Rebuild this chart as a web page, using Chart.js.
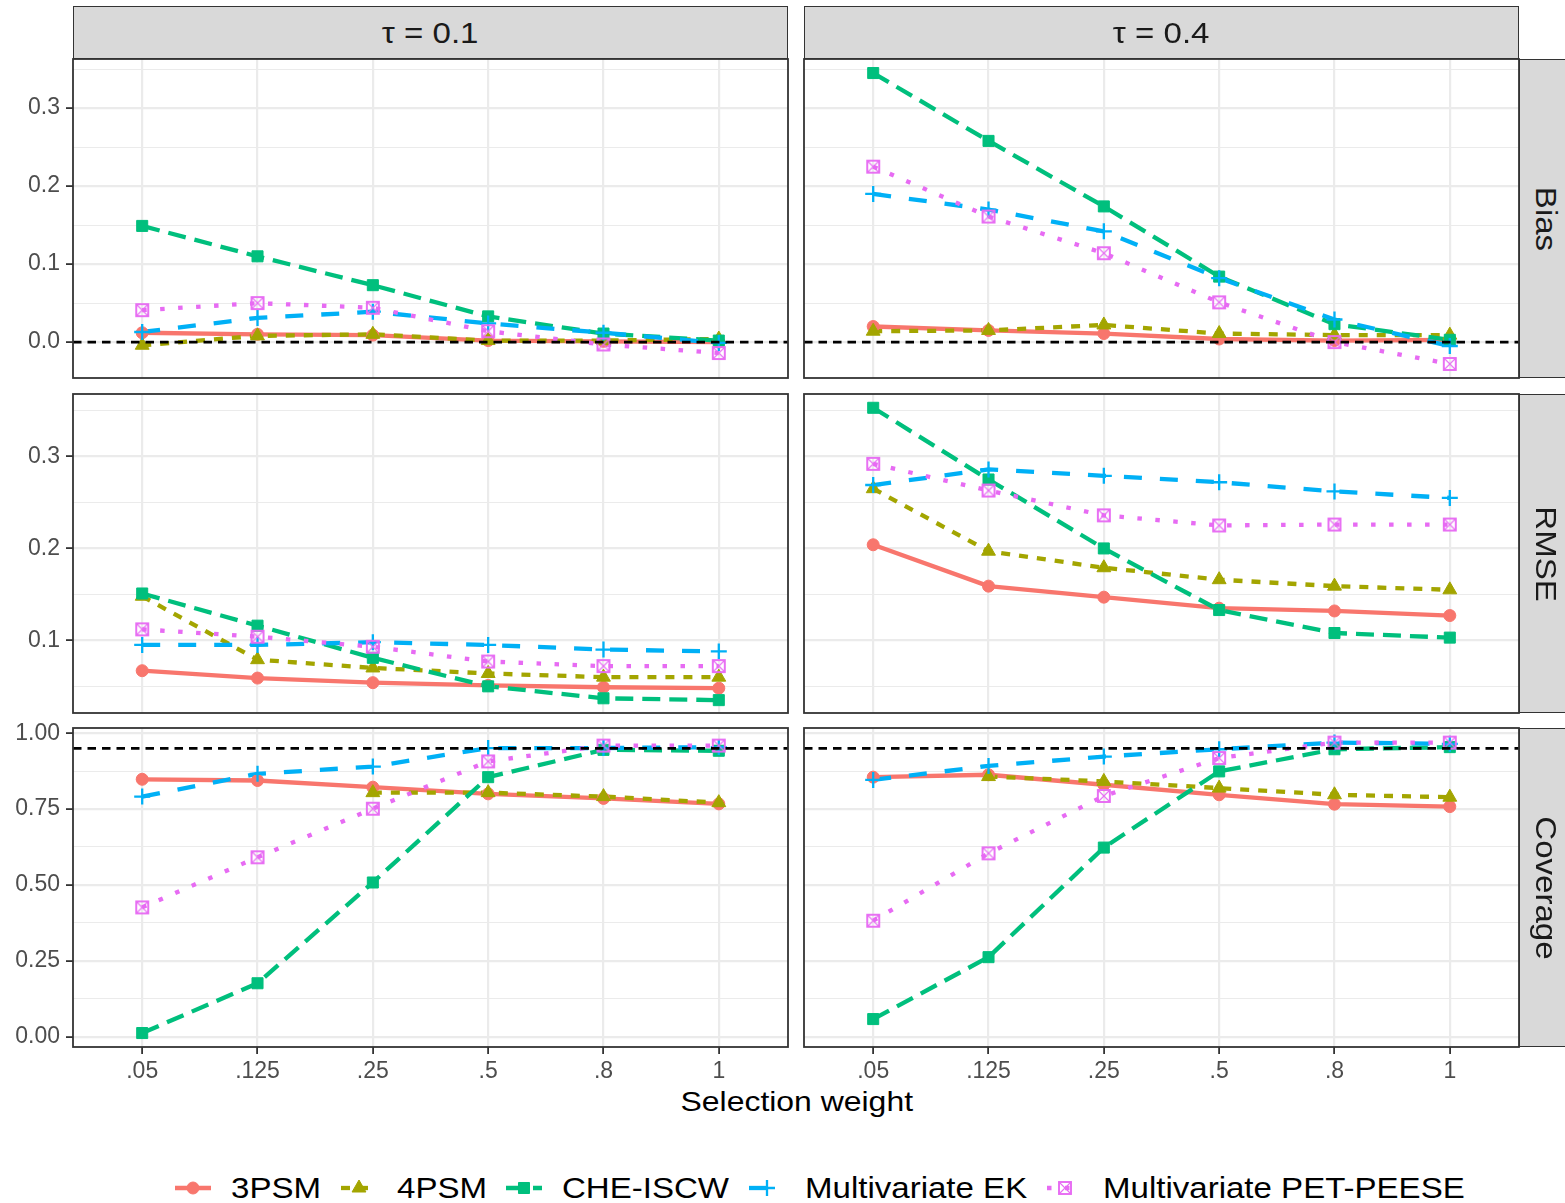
<!DOCTYPE html>
<html>
<head>
<meta charset="utf-8">
<title>Selection weight simulation</title>
<script src="https://cdn.jsdelivr.net/npm/chart.js@4.4.1/dist/chart.umd.min.js"></script>
<style>
  html, body { margin: 0; padding: 0; background: #fff; }
  body { width: 1565px; height: 1203px; position: relative; overflow: hidden;
         font-family: "Liberation Sans", Arial, Helvetica, sans-serif; }
  canvas.panel { position: absolute; }
  .strip { position: absolute; box-sizing: border-box; background: #d9d9d9;
           border: 1.8px solid #333; color: #1a1a1a; font-size: 29.5px;
           display: flex; align-items: center; justify-content: center; white-space: nowrap; }
  .strip span { display: inline-block; transform: scaleX(1.12); }
  .strip.side span { transform: rotate(90deg) scaleX(1.12); }
  #xtitle { position: absolute; left: 0; width: 1593px; top: 1085px; text-align: center;
            font-size: 28.5px; color: #000; white-space: nowrap; }
  #xtitle span { display: inline-block; transform: scaleX(1.12); }
  #legend { position: absolute; left: 0; width: 1640px; top: 1170px; height: 36px;
            display: flex; justify-content: center; align-items: center; }
  #legend .item { display: flex; align-items: center; margin: 0 10px; }
  #legend canvas { display: block; margin-right: 20px; }
  #legend .lab { display: inline-block; font-size: 29.5px; color: #000; white-space: nowrap; }
  #legend .lab span { display: inline-block; transform: scaleX(1.12); transform-origin: left center; }
</style>
</head>
<body>
<div id="xtitle"><span>Selection weight</span></div>
<div id="legend"></div>
<script>
// ---- data -------------------------------------------------------------
var CATEGORIES = ['.05', '.125', '.25', '.5', '.8', '1'];
var METHODS = ['3PSM', '4PSM', 'CHE-ISCW', 'Multivariate EK', 'Multivariate PET-PEESE'];
var TAUS = ['\u03c4 = 0.1', '\u03c4 = 0.4'];
var MEASURES = ['Bias', 'RMSE', 'Coverage'];

// one row per method, in METHODS order
var bias_tau01 = [
  [0.012, 0.010, 0.009, 0.002, 0.001, 0.000],
  [-0.004, 0.008, 0.010, 0.002, 0.002, 0.004],
  [0.149, 0.110, 0.073, 0.033, 0.011, 0.002],
  [0.013, 0.031, 0.039, 0.024, 0.012, -0.001],
  [0.041, 0.050, 0.044, 0.014, -0.003, -0.014]
];
var bias_tau04 = [
  [0.020, 0.015, 0.011, 0.004, 0.002, 0.003],
  [0.014, 0.015, 0.022, 0.011, 0.009, 0.009],
  [0.345, 0.258, 0.174, 0.084, 0.023, 0.003],
  [0.190, 0.170, 0.142, 0.082, 0.029, -0.005],
  [0.225, 0.161, 0.114, 0.051, 0.000, -0.028]
];
var rmse_tau01 = [
  [0.067, 0.059, 0.054, 0.051, 0.049, 0.048],
  [0.148, 0.079, 0.070, 0.064, 0.060, 0.060],
  [0.151, 0.116, 0.081, 0.050, 0.037, 0.035],
  [0.095, 0.095, 0.098, 0.095, 0.090, 0.088],
  [0.112, 0.104, 0.093, 0.077, 0.072, 0.072]
];
var rmse_tau04 = [
  [0.204, 0.159, 0.147, 0.135, 0.132, 0.127],
  [0.265, 0.197, 0.179, 0.166, 0.159, 0.155],
  [0.353, 0.275, 0.200, 0.133, 0.108, 0.103],
  [0.269, 0.286, 0.279, 0.272, 0.262, 0.255],
  [0.292, 0.263, 0.236, 0.225, 0.226, 0.226]
];
var coverage_tau01 = [
  [0.848, 0.844, 0.822, 0.800, 0.785, 0.767],
  [null, null, 0.804, 0.804, 0.791, 0.771],
  [0.012, 0.176, 0.508, 0.855, 0.945, 0.942],
  [0.791, 0.866, 0.890, 0.951, 0.951, 0.954],
  [0.426, 0.591, 0.751, 0.907, 0.959, 0.959]
];
var coverage_tau04 = [
  [0.855, 0.863, 0.830, 0.797, 0.766, 0.758],
  [null, 0.857, 0.841, 0.819, 0.797, 0.789],
  [0.058, 0.262, 0.623, 0.874, 0.947, 0.954],
  [0.846, 0.892, 0.923, 0.947, 0.969, 0.965],
  [0.382, 0.604, 0.793, 0.918, 0.969, 0.969]
];

// y axes (shared along each row)
var BIAS_RANGE = [-0.046, 0.363];
var BIAS_BREAKS = [0, 0.1, 0.2, 0.3];
var BIAS_LABELS = ['0.0', '0.1', '0.2', '0.3'];
var BIAS_TARGET = 0;
var RMSE_RANGE = [0.021, 0.368];
var RMSE_BREAKS = [0.1, 0.2, 0.3];
var RMSE_LABELS = ['0.1', '0.2', '0.3'];
var COVERAGE_RANGE = [-0.034, 1.017];
var COVERAGE_BREAKS = [0, 0.25, 0.5, 0.75, 1];
var COVERAGE_LABELS = ['0.00', '0.25', '0.50', '0.75', '1.00'];
var COVERAGE_TARGET = 0.95;

// ---- look -------------------------------------------------------------
var FONT = '"Liberation Sans", Arial, Helvetica, sans-serif';
var COLORS = ['#F8766D', '#A3A500', '#00BF7D', '#00B0F6', '#E76BF3'];
var LWD = 4.3;
var DASHES = [[], [9, 9], [18, 9], [18, 18], [4.5, 13.5]];   // solid, 22, 42, 44, 13
var POINT_R = [6, 8, 7.8, 8, 7.5];
var GRID_COL = '#EBEBEB';
var INK = '#333333';
var TICK_INK = '#4D4D4D';

// facet geometry (page pixels)
var COL_X = [73, 804], COL_W = 715;
var ROW_Y = [59, 394, 728], ROW_H = 319;
var STRIP_H = 53, M = 14, Y_AXIS_W = 73, X_AXIS_H = 60;

// open square with a cross through it (pch 7)
function boxCross(color) {
  var c = document.createElement('canvas');
  c.width = 16; c.height = 16;
  var g = c.getContext('2d');
  g.strokeStyle = color;
  g.lineWidth = 1.9;
  g.strokeRect(2, 2, 12, 12);
  g.lineWidth = 1.1;
  g.beginPath();
  g.moveTo(2, 2); g.lineTo(14, 14);
  g.moveTo(14, 2); g.lineTo(2, 14);
  g.stroke();
  return c;
}
var SHAPES = ['circle', 'triangle', 'rect', 'cross', boxCross(COLORS[4])];

// frame + dashed target line, drawn over the series
Chart.register({
  id: 'facetFrame',
  afterDatasetsDraw: function (chart, args, opts) {
    var ctx = chart.ctx, a = chart.chartArea;
    if (opts.target != null) {
      var py = chart.scales.y.getPixelForValue(opts.target);
      ctx.save();
      ctx.beginPath();
      ctx.setLineDash([8.5, 6]);
      ctx.lineWidth = 2.6;
      ctx.strokeStyle = '#000';
      ctx.moveTo(a.left, py);
      ctx.lineTo(a.right, py);
      ctx.stroke();
      ctx.restore();
    }
    ctx.save();
    ctx.lineWidth = 1.8;
    ctx.strokeStyle = INK;
    ctx.strokeRect(a.left, a.top, a.right - a.left, a.bottom - a.top);
    ctx.restore();
  }
});

// majors plus the half-way minor lines that fall inside the range
function gridTicks(breaks, range) {
  var step = breaks[1] - breaks[0];
  var out = breaks.map(function (v) { return { value: v, minor: false }; });
  for (var i = -1; i < breaks.length; i++) {
    var m = breaks[0] + (i + 0.5) * step;
    if (m > range[0] && m < range[1]) out.push({ value: m, minor: true });
  }
  return out.sort(function (p, q) { return p.value - q.value; });
}

function buildDatasets(rows) {
  var sets = [];
  rows.forEach(function (vals, k) {
    var pts = vals.map(function (v, i) { return { x: i + 1, y: v }; });
    sets.push({
      data: pts, borderColor: COLORS[k], borderWidth: LWD, borderDash: DASHES[k],
      borderCapStyle: 'butt', borderJoinStyle: 'round', pointRadius: 0,
      tension: 0, spanGaps: false, order: 20 - k
    });
    sets.push({
      data: pts, showLine: false, pointStyle: SHAPES[k], pointRadius: POINT_R[k],
      pointBackgroundColor: COLORS[k], pointBorderColor: COLORS[k],
      pointBorderWidth: k === 3 ? 2.3 : 1, order: 10 - k
    });
  });
  return sets;
}

function facet(rowIdx, colIdx, rows, yCfg) {
  var left = colIdx === 0, bottom = rowIdx === 2;
  var canvas = document.createElement('canvas');
  canvas.className = 'panel';
  var cw = left ? COL_X[0] + COL_W + M : COL_W + 2 * M;
  var ch = M + ROW_H + (bottom ? X_AXIS_H : M);
  canvas.width = cw; canvas.height = ch;
  canvas.style.left = (left ? 0 : COL_X[colIdx] - M) + 'px';
  canvas.style.top = (ROW_Y[rowIdx] - M) + 'px';
  document.body.appendChild(canvas);

  var yTicks = gridTicks(yCfg.breaks, yCfg.range);
  var tickFont = { family: FONT, size: 23 };

  return new Chart(canvas.getContext('2d'), {
    type: 'line',
    data: { datasets: buildDatasets(rows) },
    options: {
      responsive: false, animation: false, events: [],
      layout: { padding: { left: left ? 0 : M, right: M, top: M, bottom: bottom ? 0 : M } },
      plugins: { legend: { display: false }, tooltip: { enabled: false },
                 facetFrame: { target: yCfg.target } },
      scales: {
        x: {
          type: 'linear', min: 0.4, max: CATEGORIES.length + 0.6,
          afterBuildTicks: function (s) {
            s.ticks = CATEGORIES.map(function (c, i) { return { value: i + 1 }; });
          },
          afterFit: function (s) {
            s.height = bottom ? X_AXIS_H : 0;
            s.paddingLeft = s.paddingRight = s.paddingTop = s.paddingBottom = 0;
          },
          border: { display: false },
          grid: { color: GRID_COL, lineWidth: 2.2, drawTicks: bottom, tickLength: 7,
                  tickColor: INK, tickWidth: 1.8 },
          ticks: {
            display: bottom, autoSkip: false, maxRotation: 0, padding: 4,
            color: TICK_INK, font: tickFont,
            callback: function (v) { return CATEGORIES[Math.round(v) - 1]; }
          }
        },
        y: {
          type: 'linear', min: yCfg.range[0], max: yCfg.range[1],
          afterBuildTicks: function (s) { s.ticks = yTicks.map(function (t) { return Object.assign({}, t); }); },
          afterFit: function (s) {
            s.width = left ? Y_AXIS_W : 0;
            s.paddingLeft = s.paddingRight = s.paddingTop = s.paddingBottom = 0;
          },
          border: { display: false },
          grid: {
            color: GRID_COL,
            lineWidth: function (c) { return c.tick && c.tick.minor ? 1.1 : 2.2; },
            drawTicks: left, tickLength: 7, tickWidth: 1.8,
            tickColor: function (c) { return c.tick && c.tick.minor ? 'rgba(0,0,0,0)' : INK; }
          },
          ticks: {
            display: left, autoSkip: false, padding: 6, color: TICK_INK, font: tickFont,
            callback: function (v) {
              var i = yCfg.breaks.findIndex(function (b) { return Math.abs(b - v) < 1e-9; });
              return i < 0 ? '' : yCfg.labels[i];
            }
          }
        }
      }
    }
  });
}

var ROW_CFG = [
  { range: BIAS_RANGE, breaks: BIAS_BREAKS, labels: BIAS_LABELS, target: BIAS_TARGET, data: [bias_tau01, bias_tau04] },
  { range: RMSE_RANGE, breaks: RMSE_BREAKS, labels: RMSE_LABELS, target: null, data: [rmse_tau01, rmse_tau04] },
  { range: COVERAGE_RANGE, breaks: COVERAGE_BREAKS, labels: COVERAGE_LABELS, target: COVERAGE_TARGET, data: [coverage_tau01, coverage_tau04] }
];

ROW_CFG.forEach(function (cfg, r) {
  facet(r, 0, cfg.data[0], cfg);
  facet(r, 1, cfg.data[1], cfg);
});

// strips
function strip(text, x, y, w, h, side) {
  var d = document.createElement('div');
  d.className = 'strip' + (side ? ' side' : '');
  d.style.left = x + 'px'; d.style.top = y + 'px';
  d.style.width = w + 'px'; d.style.height = h + 'px';
  var s = document.createElement('span');
  s.textContent = text;
  d.appendChild(s);
  document.body.appendChild(d);
}
TAUS.forEach(function (t, c) { strip(t, COL_X[c], ROW_Y[0] - STRIP_H, COL_W, STRIP_H, false); });
MEASURES.forEach(function (m, r) { strip(m, COL_X[1] + COL_W, ROW_Y[r], STRIP_H, ROW_H, true); });

// legend
var legend = document.getElementById('legend');
METHODS.forEach(function (name, k) {
  var item = document.createElement('div');
  item.className = 'item';
  var key = document.createElement('canvas');
  key.width = 36; key.height = 30;
  var g = key.getContext('2d');
  g.strokeStyle = COLORS[k];
  g.fillStyle = COLORS[k];
  g.lineWidth = LWD;
  g.setLineDash(DASHES[k]);
  g.beginPath(); g.moveTo(0, 15); g.lineTo(36, 15); g.stroke();
  g.setLineDash([]);
  g.lineWidth = k === 3 ? 2.3 : 1;
  Chart.helpers.drawPoint(g, { pointStyle: SHAPES[k], radius: POINT_R[k], borderWidth: g.lineWidth, rotation: 0 }, 18, 15);
  var lab = document.createElement('span');
  lab.className = 'lab';
  var inner = document.createElement('span');
  inner.textContent = name;
  lab.appendChild(inner);
  item.appendChild(key);
  item.appendChild(lab);
  legend.appendChild(item);
  lab.style.width = (inner.offsetWidth * 1.12) + 'px';
});
</script>
</body>
</html>
